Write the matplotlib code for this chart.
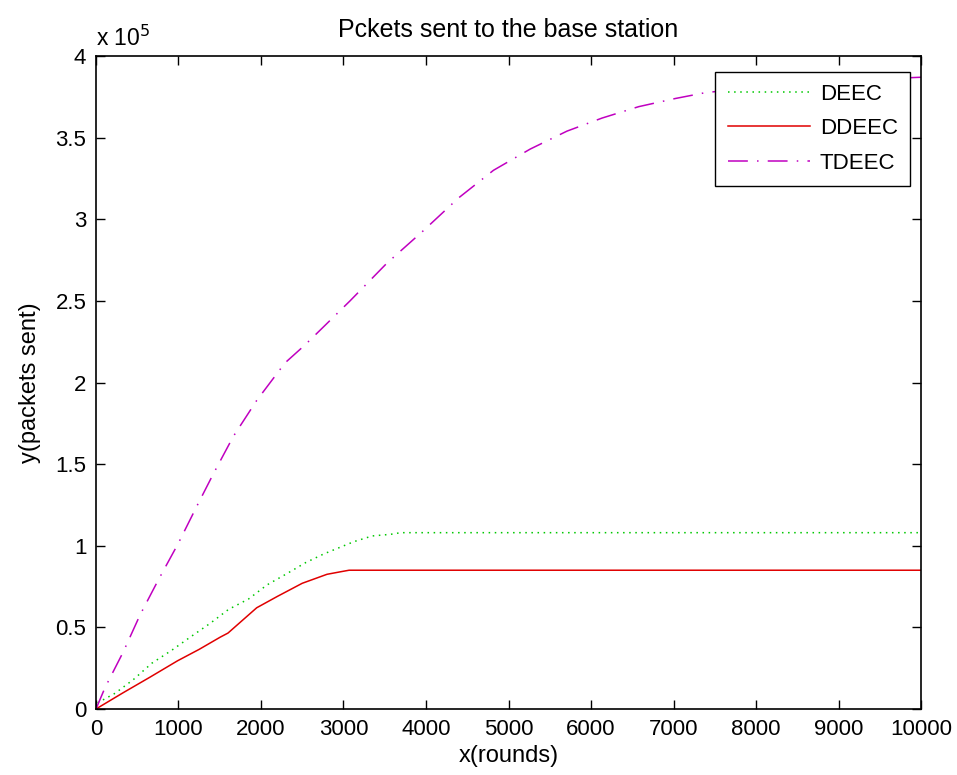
import matplotlib
matplotlib.use("Agg")
import matplotlib.pyplot as plt
from matplotlib.ticker import FuncFormatter

plt.rcParams['font.family'] = ['Liberation Sans', 'DejaVu Sans']

# Values (rounds, packets sent)
deec_x = [0, 28, 231, 453, 676, 919, 1142, 1385, 1607, 1850, 2073, 2317, 2539,
          2762, 3005, 3126, 3349, 3572, 3694, 10000]
deec_y = [0, 4000, 9600, 18000, 28000, 36000, 44000, 52500, 61000, 67400, 76000,
          83000, 89600, 95000, 100000, 102500, 106000, 107000, 108000, 108000]

ddeec_x = [0, 331, 655, 988, 1250, 1506, 1600, 1948, 2200, 2500, 2800, 2959, 3068, 10000]
ddeec_y = [0, 10000, 19500, 29500, 36500, 44000, 46500, 62000, 69000, 77000, 82500,
           84000, 85000, 85000]

tdeec_x = [0, 109, 331, 533, 755, 998, 1220, 1422, 1665, 1948, 2291, 2533, 2756,
           3079, 3524, 3968, 4393, 4818, 5263, 5709, 6134, 6579, 7024, 7380,
           8000, 9000, 10000]
tdeec_y = [0, 13000, 35000, 57500, 79000, 101500, 124000, 144000, 167000, 189000,
           212000, 223000, 234000, 250000, 273000, 293000, 313000, 330000, 343000,
           354000, 362000, 369000, 374000, 377500, 381000, 385000, 387000]

y_ticks = [0, 50000, 100000, 150000, 200000, 250000, 300000, 350000, 400000]
x_ticks = [0, 1000, 2000, 3000, 4000, 5000, 6000, 7000, 8000, 9000, 10000]

fig = plt.figure(figsize=(9.57, 7.75), dpi=100)
ax = fig.add_axes([0.1003, 0.0852, 0.8621, 0.8425])

ax.plot(deec_x, deec_y, color='#00c800', linestyle=(0, (1, 3)), lw=1.1, label='DEEC')
ax.plot(ddeec_x, ddeec_y, color='#e00000', linestyle='-', lw=1.1, label='DDEEC')
ax.plot(tdeec_x, tdeec_y, color='#c000c0', linestyle=(0, (13, 6, 1, 6)), lw=1.1, label='TDEEC')

ax.set_xlim(0, 10000)
ax.set_ylim(0, 400000)
ax.set_xticks(x_ticks)
ax.set_yticks(y_ticks)
ax.yaxis.set_major_formatter(FuncFormatter(lambda v, p: f'{v / 1e5:g}'))
ax.tick_params(direction='in', top=True, right=True, length=6.5, width=1,
               labelsize=16, pad=7)
for s in ax.spines.values():
    s.set_linewidth(1.2)

ax.set_title('Pckets sent to the base station', fontsize=18, pad=14)
ax.set_xlabel('x(rounds)', fontsize=17, labelpad=4)
ax.set_ylabel('y(packets sent)', fontsize=17, labelpad=10)
ax.text(0.0, 1.008, r'x 10$^5$', transform=ax.transAxes, fontsize=16.5,
        ha='left', va='bottom')

leg = ax.legend(loc='upper right', bbox_to_anchor=(0.9867, 0.976), borderaxespad=0,
                fontsize=16, fancybox=False, framealpha=1, edgecolor='black',
                handlelength=3.7, labelspacing=0.6, borderpad=0.55, handletextpad=0.45)
leg.get_frame().set_linewidth(1)

fig.savefig('out.png', dpi=100)
